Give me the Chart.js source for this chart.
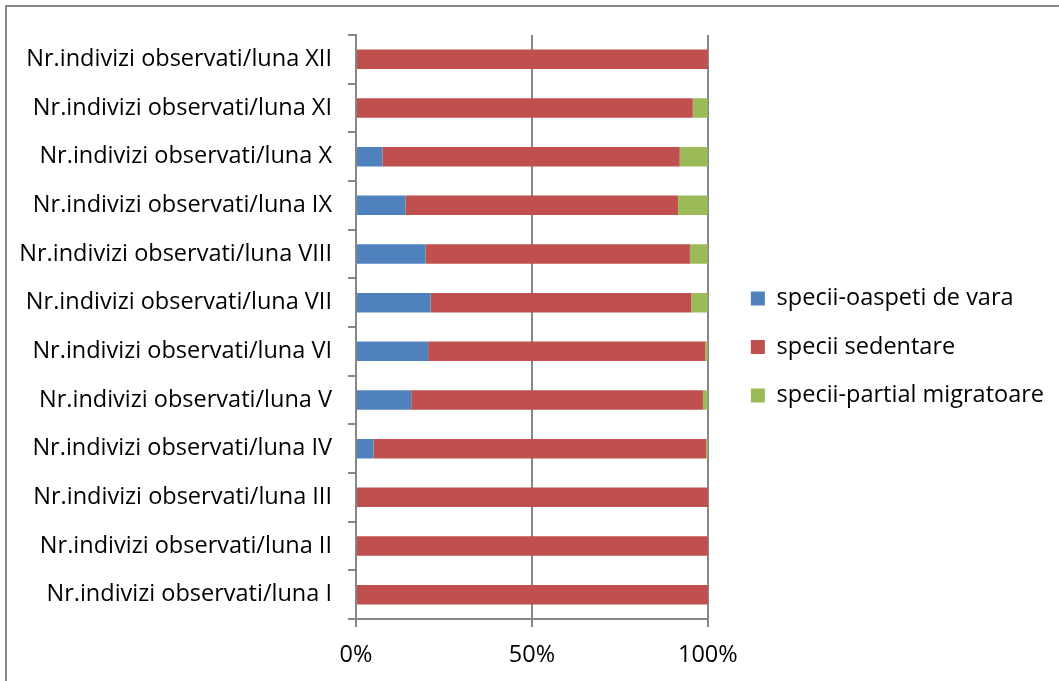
<!DOCTYPE html>
<html>
<head>
<meta charset="utf-8">
<title>Specii observate pe luni</title>
<script src="https://cdn.jsdelivr.net/npm/chart.js@4.4.0/dist/chart.umd.min.js"></script>
<style>
    html, body { margin: 0; padding: 0; background: #fff; overflow: hidden; }
    .frame {
        position: absolute; left: 5px; top: 5px; width: 1200px; height: 800px;
        border-left: 2px solid #898989; border-top: 2px solid #898989;
    }
    .chart-box { position: absolute; left: 0; top: 0; width: 1059px; height: 681px; }
</style>
</head>
<body>
<div class="frame"></div>
<div class="chart-box"><canvas id="speciiChart"></canvas></div>
<script>
// luni I..XII (jos -> sus)
const luni = ['I', 'II', 'III', 'IV', 'V', 'VI', 'VII', 'VIII', 'IX', 'X', 'XI', 'XII'];
const categorii = luni.map(l => 'Nr.indivizi observati/luna ' + l);

// procente pe fiecare luna
const oaspetiVara = [0, 0, 0, 5.0, 15.7, 20.5, 21.2, 19.8, 14.1, 7.5, 0, 0];
const sedentare   = [100, 100, 100, 94.5, 82.9, 78.8, 74.1, 75.1, 77.4, 84.5, 95.7, 100];
const partialMigr = [0, 0, 0, 0.5, 1.4, 0.7, 4.7, 5.1, 8.5, 8.0, 4.3, 0];

const procenteTicks = [0, 50, 100];

const gri = '#878787';

Chart.defaults.font.family = "'Open Sans', sans-serif";
Chart.defaults.font.size = 23.5;
Chart.defaults.color = '#000';

// axa goala folosita doar ca spatiu in layout
function spatiu(pozitie, marime) {
    return {
        type: 'linear',
        position: pozitie,
        display: true,
        grid: { display: false },
        border: { display: false },
        ticks: { display: false },
        afterFit: function(scale) {
            if (scale.isHorizontal()) scale.height = marime;
            else scale.width = marime;
        }
    };
}

document.addEventListener('DOMContentLoaded', function() {
    const ctx = document.getElementById('speciiChart');

    new Chart(ctx, {
        type: 'bar',
        data: {
            labels: categorii,
            datasets: [
                { label: 'specii-oaspeti de vara', data: oaspetiVara, backgroundColor: '#4F81BD' },
                { label: 'specii sedentare', data: sedentare, backgroundColor: '#C0504D' },
                { label: 'specii-partial migratoare', data: partialMigr, backgroundColor: '#9BBB59' }
            ]
        },
        options: {
            indexAxis: 'y',
            responsive: true,
            maintainAspectRatio: false,
            animation: false,
            datasets: {
                bar: { categoryPercentage: 1, barPercentage: 0.4, borderWidth: 0 }
            },
            layout: {
                padding: { top: 28, left: 0, bottom: 15, right: 5 }
            },
            plugins: {
                tooltip: { enabled: false },
                legend: {
                    position: 'right',
                    align: 'center',
                    maxWidth: 420,
                    labels: {
                        boxWidth: 14,
                        boxHeight: 14,
                        padding: 25,
                        color: '#000'
                    }
                }
            },
            scales: {
                x: {
                    stacked: true,
                    min: 0,
                    max: 100,
                    afterBuildTicks: function(scale) {
                        scale.ticks = procenteTicks.map(v => ({ value: v }));
                    },
                    afterFit: function(scale) { scale.height = 47; },
                    grid: { color: gri, lineWidth: 2, tickLength: 8 },
                    border: { color: gri, width: 2 },
                    ticks: {
                        padding: 14,
                        callback: v => v + '%'
                    }
                },
                y: {
                    stacked: true,
                    reverse: true,
                    afterFit: function(scale) { scale.width = 356; },
                    grid: { color: gri, lineWidth: 2, tickLength: 8, drawOnChartArea: false, offset: true },
                    border: { color: gri, width: 2 },
                    ticks: { padding: 16 }
                },
                spatiuDreapta: spatiu('right', 18),
                spatiuSus: spatiu('top', 7)
            }
        }
    });
});
</script>
</body>
</html>
